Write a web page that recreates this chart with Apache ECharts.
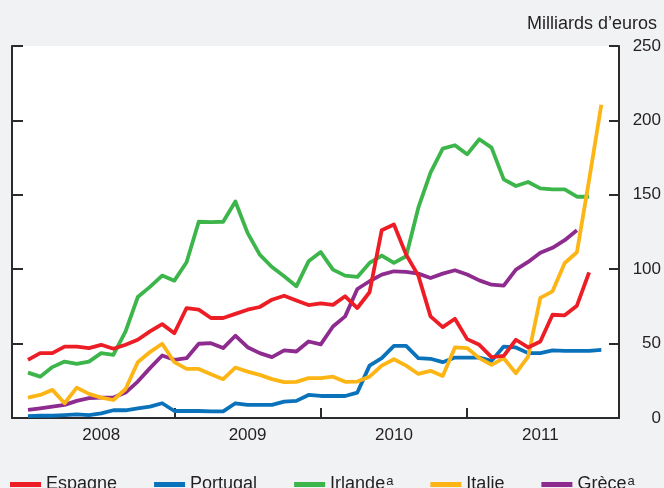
<!DOCTYPE html>
<html>
<head>
<meta charset="utf-8">
<script src="https://cdn.jsdelivr.net/npm/echarts@6/dist/echarts.min.js"></script>
<style>
    html, body { margin: 0; padding: 0; background: #f1f2f4; }
    #myChart { width: 664px; height: 488px; }
</style>
</head>
<body>
<div id="myChart"></div>
<script>
    // monthly values, Jan 2008 -> Dec 2011 (index 0 = Jan 2008), billions of euros
    var yearLabels = ['2008', '2009', '2010', '2011'];
    var yTicks = [0, 50, 100, 150, 200, 250];

    var espagne = [39.1, 43.6, 43.6, 48, 48, 47, 49.2, 46.5, 49.2, 52.6, 58.2, 63.1,
        57, 73.9, 72.8, 67.2, 67.2, 70, 72.8, 74.6, 79.5, 82.2, 79, 75.9,
        77, 76, 81.8, 73.9, 84.5, 126.2, 130, 109.8, 95.7, 68.3, 61.1, 66.7,
        53, 49.2, 40.9, 41.8, 52.6, 47.4, 51.4, 69.4, 69, 75.5, 97.9];
    var portugal = [1.3, 1.5, 1.5, 2, 2.5, 2, 3.1, 5.2, 5.2, 6.5, 7.6, 9.9,
        4.7, 4.7, 4.7, 4.5, 4.5, 9.9, 8.8, 8.8, 8.8, 11, 11.5, 15.5,
        14.8, 14.8, 14.8, 17.1, 35.2, 40.2, 48.5, 48.5, 40.2, 39.8, 37.5, 40.6,
        40.6, 40.6, 38.4, 48, 47.4, 43.6, 43.6, 45.4, 45.1, 45.1, 45.1, 45.8];
    var irlande = [30.5, 27.8, 34.2, 37.9, 36.4, 37.9, 43.6, 42.5, 58.2, 81.3, 88.1, 95.7,
        92.3, 104.7, 131.9, 131.6, 131.9, 145.5, 124.4, 109.8, 101.5, 95.2, 88.5, 105.3,
        111.5, 99.7, 95.7, 94.8, 104.2, 109.2, 104.2, 108.7, 141.3, 164.9, 181, 183.3,
        177.2, 187.3, 181.7, 160.4, 155.9, 158.6, 154.3, 153.6, 153.6, 148.7, 148.7];
    var italie = [13.7, 15.5, 18.9, 9.9, 20.4, 16.2, 13.7, 12.1, 19.5, 37.5, 44.3, 49.9,
        37.5, 33, 33, 29.4, 26.1, 33.9, 31.2, 29, 26.1, 24.1, 24.3, 26.8,
        26.8, 27.8, 24.3, 24.5, 27.8, 35.2, 39.5, 35.2, 29.6, 31.7, 28.3, 47.4,
        47, 40.2, 35.7, 40.2, 30.1, 41.3, 80.7, 85.1, 104.2, 111.4, 160, 210.5];
    var grece = [5.4, 6.5, 7.6, 8.8, 11.5, 13.3, 13.7, 13.7, 17.1, 24.5, 33.5, 42,
        39.1, 40.2, 49.9, 50.3, 47, 55.3, 47.6, 43.6, 40.9, 45.4, 44.7, 51.4,
        49.5, 61.5, 68.3, 86.7, 91.9, 96.4, 98.6, 98.2, 97, 94.1, 97, 99.3,
        96.4, 92.5, 89.6, 88.9, 99.7, 104.9, 111, 114.4, 119.5, 126.2];

    var font = "'Liberation Sans', Arial, sans-serif";
    var axisColor = '#2b2b2b';
    var withNote = {'Irlande': true, 'Grèce': true};

    /* [monthIndex, value] pairs for the value x axis */
    function toPairs(arr) {
        return arr.map(function (v, i) { return [i, v]; });
    }

    function lineSeries(name, data, color) {
        return {
            name: name,
            type: 'line',
            data: toPairs(data),
            symbol: 'none',
            color: color,
            lineStyle: {width: 3.8, color: color, join: 'round'},
            animation: false
        };
    }

    var myChart = echarts.init(document.getElementById('myChart'));

    var option = {
        backgroundColor: '#f1f2f4',
        textStyle: {fontFamily: font},
        title: {
            text: 'Milliards d\u2019euros',
            right: 2,
            top: 10,
            textStyle: {fontSize: 18, fontWeight: 'normal', color: '#231f20', fontFamily: font}
        },
        grid: {
            left: 12, right: 44, top: 46, bottom: 70,
            show: true, backgroundColor: '#ffffff', borderWidth: 0
        },
        legend: {
            data: ['Espagne', 'Portugal', 'Irlande', 'Italie', 'Grèce'],
            left: 10,
            top: 475,
            padding: 0,
            icon: 'rect',
            itemWidth: 31,
            itemHeight: 5,
            itemGap: 37,
            formatter: function (name) {
                return withNote[name] ? '{n|' + name + '}{s|a}' : '{n|' + name + '}';
            },
            textStyle: {
                color: '#231f20',
                fontFamily: font,
                rich: {
                    n: {fontSize: 18, color: '#231f20', fontFamily: font},
                    s: {fontSize: 13, color: '#231f20', fontFamily: font, verticalAlign: 'top', padding: [0, 0, 6, 1]}
                }
            }
        },
        xAxis: {
            type: 'value',
            min: -1.31,
            max: 48.45,
            splitLine: {show: false},
            axisLine: {show: true, onZero: false, lineStyle: {color: axisColor, width: 2}},
            axisTick: {
                show: true, inside: true, length: 10,
                customValues: [12, 24, 36],
                lineStyle: {color: axisColor, width: 2}
            },
            axisLabel: {
                customValues: [6, 18, 30, 42],
                margin: 9,
                fontSize: 17,
                color: '#231f20',
                fontFamily: font,
                formatter: function (v) { return yearLabels[Math.round((v - 6) / 12)]; }
            }
        },
        yAxis: [
            {
                type: 'value',
                position: 'right',
                min: 0, max: 250, interval: 50,
                splitLine: {show: false},
                axisLine: {show: true, onZero: false, lineStyle: {color: axisColor, width: 2}},
                axisTick: {show: true, inside: true, length: 10, lineStyle: {color: axisColor, width: 2}},
                axisLabel: {
                    align: 'right',
                    margin: 42,
                    fontSize: 17,
                    color: '#231f20',
                    fontFamily: font,
                    formatter: function (v) { return yTicks.indexOf(v) >= 0 ? String(v) : ''; }
                }
            },
            {
                type: 'value',
                position: 'left',
                min: 0, max: 250, interval: 50,
                splitLine: {show: false},
                axisLine: {show: true, onZero: false, lineStyle: {color: axisColor, width: 2}},
                axisTick: {show: true, inside: true, length: 11, lineStyle: {color: axisColor, width: 2}},
                axisLabel: {show: false}
            }
        ],
        series: [
            lineSeries('Portugal', portugal, '#0a72ba'),
            lineSeries('Grèce', grece, '#8e2b8f'),
            lineSeries('Irlande', irlande, '#3cb54a'),
            lineSeries('Italie', italie, '#fdb515'),
            lineSeries('Espagne', espagne, '#ec1d25')
        ]
    };

    myChart.setOption(option);
</script>
</body>
</html>
